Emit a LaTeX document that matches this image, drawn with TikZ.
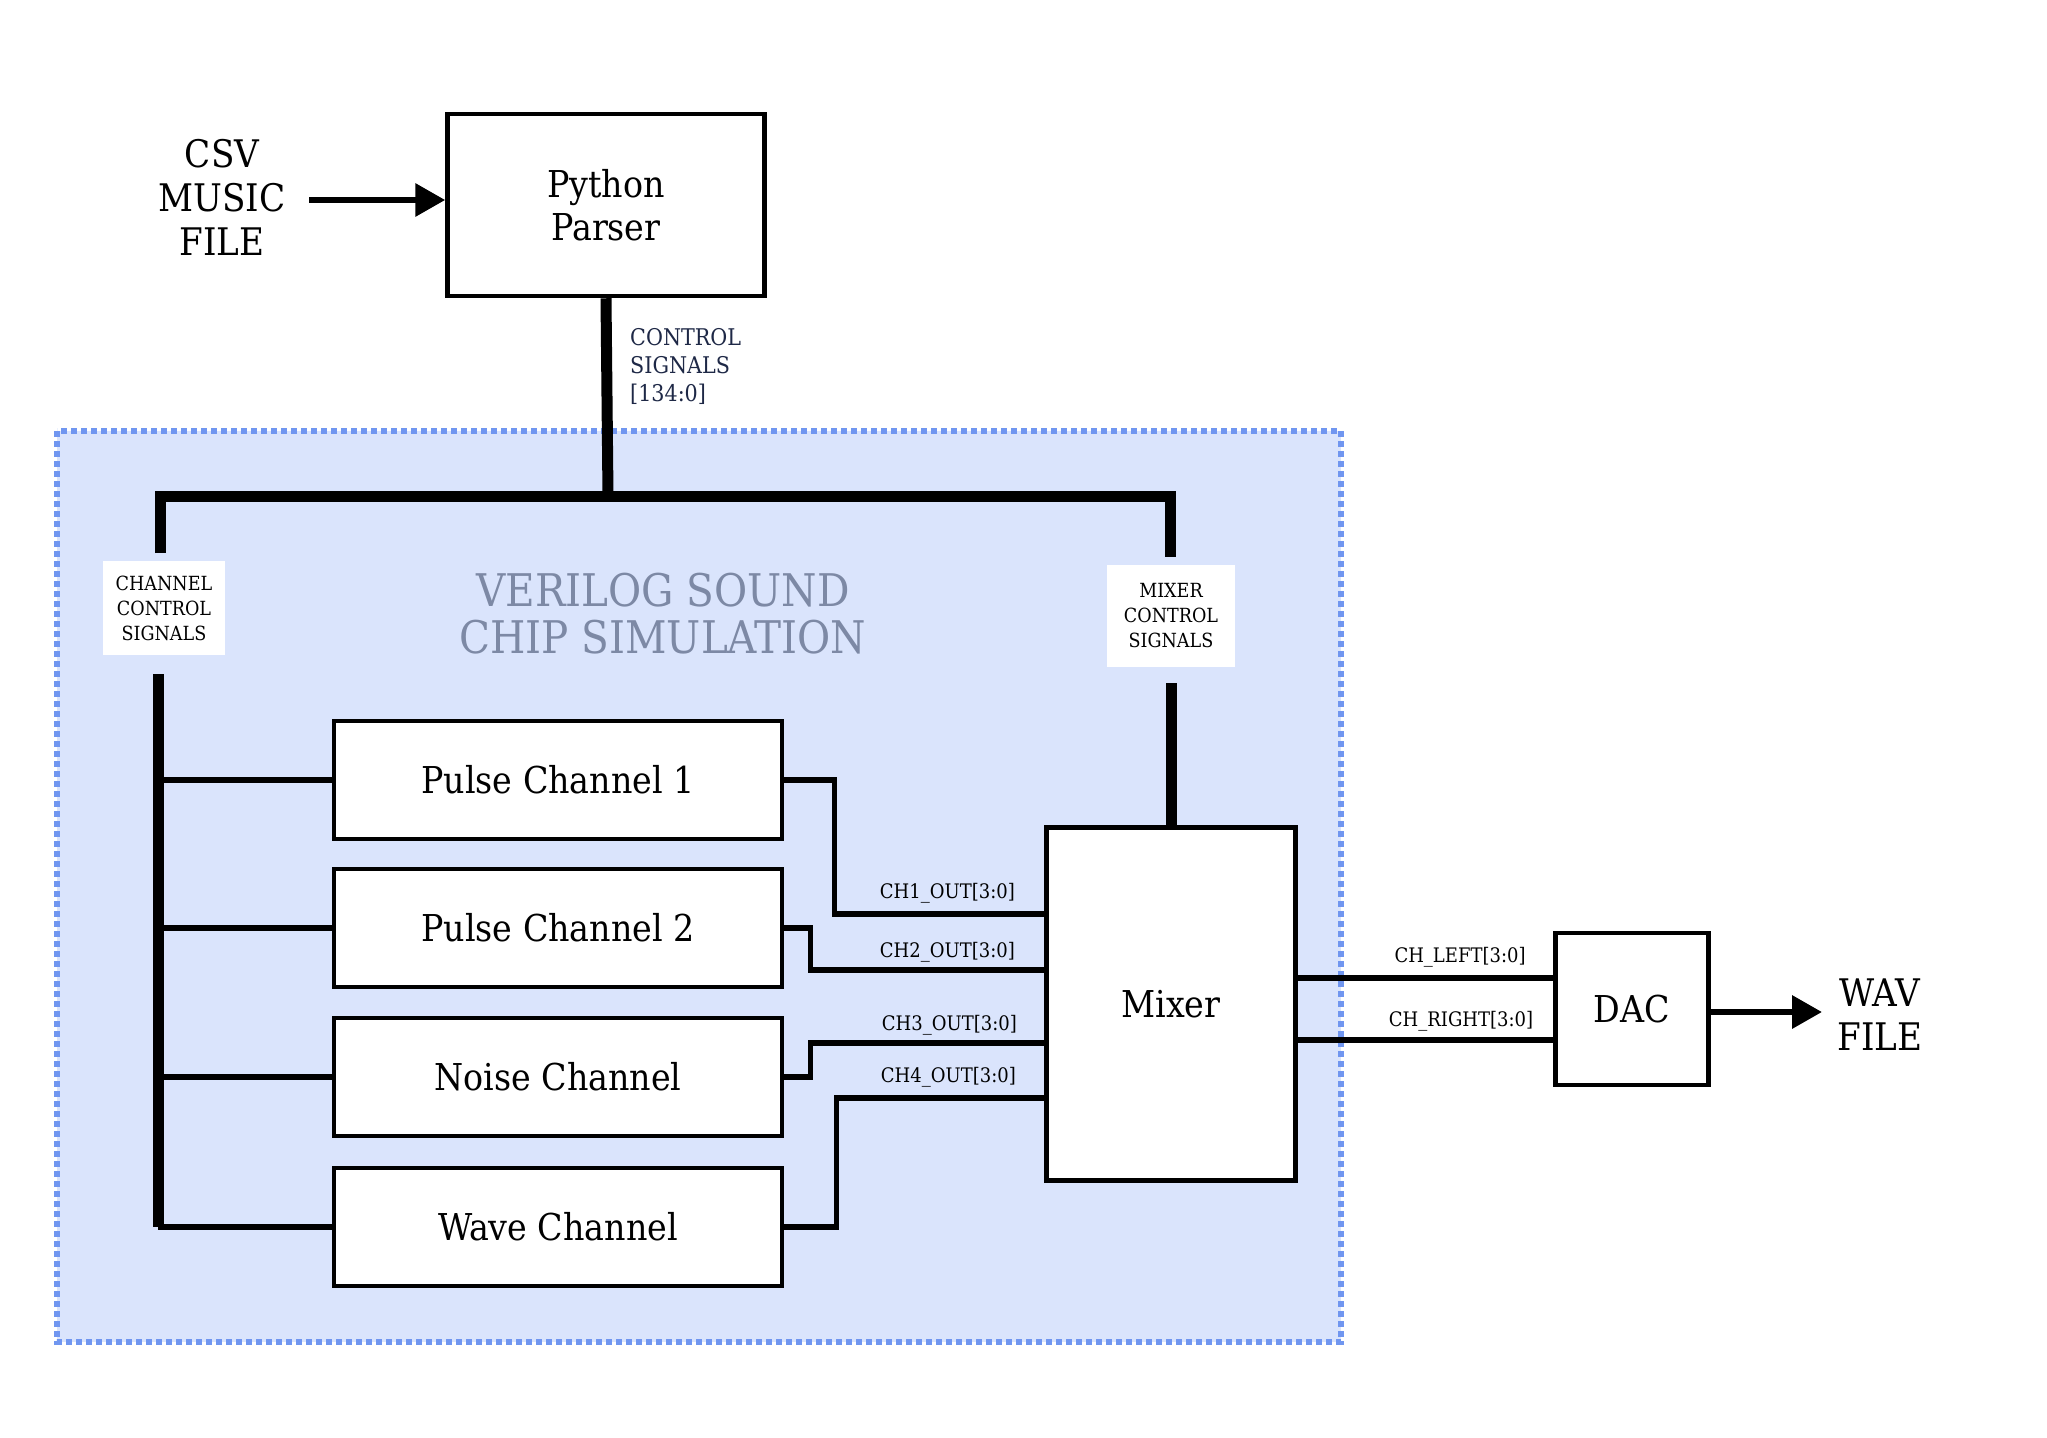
\documentclass[tikz,border=0pt]{standalone}
\usepackage{fontspec}
\setmainfont{DejaVu Serif Condensed}
\usetikzlibrary{arrows.meta}
\definecolor{sim_fill}{RGB}{218, 228, 252}
\definecolor{sim_dot}{RGB}{112, 150, 240}
\definecolor{sim_title}{RGB}{125, 137, 165}
\definecolor{sig_text}{RGB}{30, 40, 70}
\tikzstyle{blk}=[rectangle,draw=black,fill=white,line width=4.5pt,align=center,
  inner sep=0pt,font=\fontsize{37}{43}\selectfont]
\tikzstyle{tag}=[rectangle,fill=white,align=center,inner sep=0pt,
  font=\fontsize{19.5}{25}\selectfont]
\tikzstyle{wlabel}=[inner sep=0pt,anchor=east,font=\fontsize{20}{22}\selectfont]
\tikzstyle{big}=[align=center,inner sep=0pt,font=\fontsize{38}{44}\selectfont]
\tikzstyle{bus}=[line width=11pt]
\tikzstyle{wire}=[line width=5.5pt]
\tikzstyle{flow}=[line width=6.5pt,-{Triangle[length=30pt,width=32pt]}]

\begin{document}
\begin{tikzpicture}[x=1pt,y=-1pt]
    \useasboundingbox (0,0) rectangle (2047,1437);
    % simulation frame
    \draw[sim_dot,fill=sim_fill,line width=5.5pt,dash pattern=on 6pt off 4pt] (57,431) rectangle (1341,1342);
    \node[align=center,text=sim_title,font=\fontsize{45}{47}\selectfont] (title) at (663,614) {VERILOG SOUND\\CHIP SIMULATION};

    % blocks
    \node[big] (csv) at (222,197) {CSV\\MUSIC\\FILE};
    \node[blk,minimum width=317pt,minimum height=182pt] (pp) at (606,205) {Python\\Parser};
    \node[blk,minimum width=448pt,minimum height=118pt] (pc1) at (558,780) {Pulse Channel 1};
    \node[blk,minimum width=448pt,minimum height=118pt] (pc2) at (558,928) {Pulse Channel 2};
    \node[blk,minimum width=448pt,minimum height=118pt] (nc) at (558,1077) {Noise Channel};
    \node[blk,minimum width=448pt,minimum height=118pt] (wc) at (558,1227) {Wave Channel};
    \node[blk,minimum width=249pt,minimum height=353pt] (mx) at (1171,1004) {Mixer};
    \node[blk,minimum width=153pt,minimum height=152pt] (dac) at (1632,1009) {DAC};
    \node[big] (wav) at (1880,1015) {WAV\\FILE};

    % control signal bus
    \node[tag,minimum width=122pt,minimum height=94pt] (cct) at (164,608) {CHANNEL\\CONTROL\\SIGNALS};
    \node[tag,minimum width=128pt,minimum height=102pt] (mct) at (1171,616) {MIXER\\CONTROL\\SIGNALS};
    \node[anchor=west,align=left,inner sep=0pt,text=sig_text,font=\fontsize{23}{28}\selectfont] (cs) at (630,366) {CONTROL\\SIGNALS\\{[134:0]}};
    \coordinate (b0) at (608,496);
    \coordinate (b1) at (160,496);
    \coordinate (b2) at (1170,496);
    \coordinate (b3) at (160,553);
    \coordinate (b4) at (1170,557);
    \coordinate (b5) at (158,674);
    \coordinate (b6) at (158,1227);
    \coordinate (b7) at (1171,683);
    \draw[bus] (pp.south) to (b0);
    \draw[bus] (b3) -- (b1) -- (b2) -- (b4);
    \draw[bus] (b5) to (b6);
    \draw[bus] (b7) to (mx.north);
    \draw[wire] (b5 |- pc1.west) to (pc1.west);
    \draw[wire] (b5 |- pc2.west) to (pc2.west);
    \draw[wire] (b5 |- nc.west) to (nc.west);
    \draw[wire] (b6) to (wc.west);

    % channel outputs
    \coordinate (m1) at (1047,914);
    \coordinate (m2) at (1047,970);
    \coordinate (m3) at (1047,1043);
    \coordinate (m4) at (1047,1098);
    \draw[wire] (pc1.east) -- ++(50,0) |- (m1);
    \draw[wire] (pc2.east) -- ++(26,0) |- (m2);
    \draw[wire] (nc.east) -- ++(26,0) |- (m3);
    \draw[wire] (wc.east) -- ++(52,0) |- (m4);
    \node[wlabel] (l1) at (1015,893) {CH1\_OUT[3:0]};
    \node[wlabel] (l2) at (1015,952) {CH2\_OUT[3:0]};
    \node[wlabel] (l3) at (1017,1025) {CH3\_OUT[3:0]};
    \node[wlabel] (l4) at (1016,1077) {CH4\_OUT[3:0]};

    % mixer to dac
    \coordinate (d1) at (1556,978);
    \coordinate (d2) at (1556,1040);
    \draw[wire] (mx.east |- d1) to (d1);
    \draw[wire] (mx.east |- d2) to (d2);
    \node[wlabel,anchor=center] (ll) at (1460,957) {CH\_LEFT[3:0]};
    \node[wlabel,anchor=center] (lr) at (1461,1021) {CH\_RIGHT[3:0]};

    % file arrows
    \coordinate (a0) at (309,200);
    \coordinate (a1) at (1822,1012);
    \draw[flow] (a0) to (pp.west |- a0);
    \draw[flow] (dac.east |- a1) to (a1);
\end{tikzpicture}
\end{document}
